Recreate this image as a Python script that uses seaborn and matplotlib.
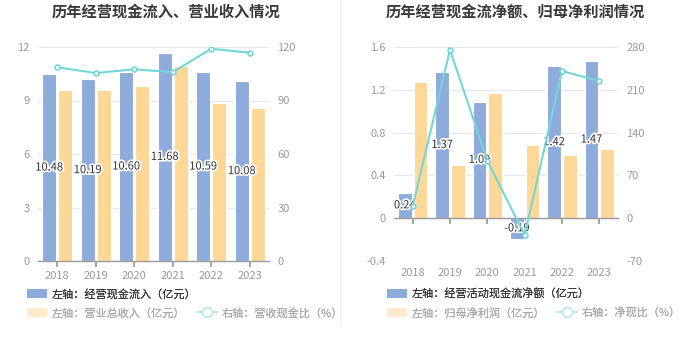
import numpy as np
import pandas as pd
import seaborn as sns
import matplotlib
matplotlib.use("Agg")
import matplotlib.pyplot as plt
from matplotlib.patches import Patch
from matplotlib.lines import Line2D
import matplotlib.patheffects as pe

years = ["2018", "2019", "2020", "2021", "2022", "2023"]
cash_inflow = [10.48, 10.19, 10.60, 11.68, 10.59, 10.08]
revenue = [9.59, 9.60, 9.81, 10.95, 8.84, 8.56]
cash_rev_ratio = [108.6, 105.4, 107.5, 105.9, 119.0, 116.8]

net_cash = [0.24, 1.37, 1.09, -0.19, 1.42, 1.47]
net_profit = [1.27, 0.50, 1.17, 0.687, 0.59, 0.65]
net_cash_ratio = [19.5, 275.5, 94.0, -27.5, 240.5, 224.5]

BLUE = "#8DACDB"
ORANGE = "#FFD796"
TEAL = "#74D6D8"
FONT = ["Noto Sans CJK SC", "DejaVu Sans"]

sns.set_theme(style="white")
plt.rcParams["font.family"] = FONT
plt.rcParams["axes.unicode_minus"] = False

W, H = 680, 349
fig = plt.figure(figsize=(W / 100, H / 100), dpi=100)


def fx(px):
    return px / W


def fy(py):
    return (H - py) / H


def draw_panel(ax_box, title, title_x, bar1, bar2, name1, name2, ratio, ylim, yticks,
               y2lim, y2ticks, zero_axis):
    ax = fig.add_axes(ax_box)
    df = pd.DataFrame({"year": years * 2, "val": list(bar1) + list(bar2),
                       "s": [name1] * len(years) + [name2] * len(years)})
    sns.barplot(data=df, x="year", y="val", hue="s", palette=[BLUE, ORANGE],
                width=0.84, gap=0.12, ax=ax, legend=False, edgecolor="white",
                linewidth=0.8, saturation=1)
    ax.set_ylim(*ylim)
    ax.set_yticks(yticks)
    ax.set_yticklabels([f"{t:g}" for t in yticks])
    ax.set_xlim(-0.5, len(years) - 0.5)
    ax.set_xlabel("")
    ax.set_ylabel("")
    ax.grid(axis="y", color="#E3E7F3", linewidth=0.8)
    ax.set_axisbelow(True)
    for s in ["left", "right", "top"]:
        ax.spines[s].set_visible(False)
    ax.spines["bottom"].set_color("#9A9A9A")
    ax.spines["bottom"].set_linewidth(1.0)
    ax.tick_params(axis="y", length=0, labelsize=8, labelcolor="#9A9A9A", pad=6)
    ax.tick_params(axis="x", length=4, color="#9A9A9A", labelsize=8,
                   labelcolor="#9A9A9A", direction="out", bottom=True)
    if zero_axis:
        ax.spines["bottom"].set_position(("data", 0))
        frac = (0 - ylim[0]) / (ylim[1] - ylim[0])
        h_pts = ax_box[3] * H * 0.72 * frac
        ax.tick_params(axis="x", pad=h_pts + 1)
    bars = ax.patches[:len(years)]
    for b, v in zip(bars, bar1):
        ax.text(b.get_x() + b.get_width() / 2, v / 2, f"{v:.2f}", ha="center",
                va="center", fontsize=8, color="#333333",
                path_effects=[pe.withStroke(linewidth=2.5, foreground="white")],
                zorder=5)
    ax2 = ax.twinx()
    sns.pointplot(x=years, y=ratio, ax=ax2, color=TEAL, markers="o",
                  linestyles="-", markersize=3.5, linewidth=1.5, errorbar=None)
    for ln in ax2.lines:
        ln.set_markerfacecolor("white")
        ln.set_markeredgecolor(TEAL)
        ln.set_markeredgewidth(1.2)
    ax2.set_ylim(*y2lim)
    ax2.set_yticks(y2ticks)
    ax2.set_yticklabels([f"{t:g}" for t in y2ticks])
    ax2.set_xlim(-0.5, len(years) - 0.5)
    ax2.set_ylabel("")
    ax2.grid(False)
    for s in ["left", "right", "top", "bottom"]:
        ax2.spines[s].set_visible(False)
    ax2.tick_params(axis="y", length=0, labelsize=8, labelcolor="#9A9A9A", pad=6)
    fig.text(fx(title_x), fy(12), title, ha="center", va="center", fontsize=11,
             fontweight="bold", color="#3A3A3A", family=FONT)
    return ax, ax2


def legends(x_px, name1, name2, name3):
    common = dict(frameon=False, handlelength=1.8, handleheight=0.9,
                  handletextpad=0.4, borderpad=0, borderaxespad=0,
                  columnspacing=1.1, loc="center left", prop={"family": FONT, "size": 8})
    l1 = fig.legend(handles=[Patch(facecolor=BLUE, edgecolor="none")], labels=[name1],
                    bbox_to_anchor=(fx(x_px), fy(294)), labelcolor="#333333", **common)
    fig.add_artist(l1)
    h2 = [Patch(facecolor="#FFEACB", edgecolor="none"),
          Line2D([], [], color="#B5E7E9", marker="o", markersize=7,
                 markerfacecolor="white", markeredgecolor="#B5E7E9", linewidth=1.2)]
    l2 = fig.legend(handles=h2, labels=[name2, name3], ncol=2,
                    bbox_to_anchor=(fx(x_px), fy(313)), labelcolor="#A8A8A8", **common)
    fig.add_artist(l2)


ax_h = 214 / H
ax_y = fy(261)
draw_panel([fx(38), ax_y, 231 / W, ax_h], "历年经营现金流入、营业收入情况", 166,
           cash_inflow, revenue, "经营现金流入", "营业总收入", cash_rev_ratio,
           (0, 12), [0, 3, 6, 9, 12], (0, 120), [0, 30, 60, 90, 120], False)
draw_panel([fx(394), ax_y, 224 / W, ax_h], "历年经营现金流净额、归母净利润情况", 515,
           net_cash, net_profit, "经营活动现金流净额", "归母净利润", net_cash_ratio,
           (-0.4, 1.6), [-0.4, 0, 0.4, 0.8, 1.2, 1.6], (-70, 280),
           [-70, 0, 70, 140, 210, 280], True)

legends(27, "左轴：经营现金流入（亿元）", "左轴：营业总收入（亿元）", "右轴：营收现金比（%）")
legends(387, "左轴：经营活动现金流净额（亿元）", "左轴：归母净利润（亿元）", "右轴：净现比（%）")

fig.add_artist(Line2D([fx(341), fx(341)], [fy(325), 1.0], color="#F0F0F0",
                      linewidth=1.2, transform=fig.transFigure))

fig.savefig("out.png", dpi=100, facecolor="white")
